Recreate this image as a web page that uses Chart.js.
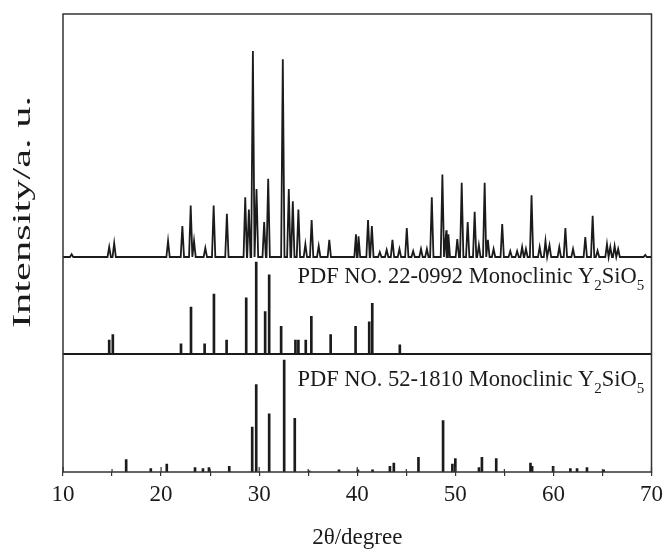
<!DOCTYPE html>
<html>
<head>
<meta charset="utf-8">
<script src="https://cdn.jsdelivr.net/npm/chart.js@4.4.1/dist/chart.umd.min.js"></script>
<style>
  html, body { margin: 0; padding: 0; background: #fff; }
  #wrap { width: 668px; height: 552px; }
</style>
</head>
<body>
<div id="wrap"><canvas id="xrdCanvas" width="668" height="552"></canvas></div>
<script>
// measured pattern: peak positions (2theta) and relative intensities (tallest = 100)
const samplePos = [10.88, 14.71, 15.22, 20.71, 22.17, 23.02, 23.36, 24.51, 25.36, 26.71,
  28.58, 28.95, 29.36, 29.73, 30.51, 30.92, 32.41, 33.02, 33.43, 34.00,
  34.71, 35.35, 36.07, 37.15, 39.87, 40.13, 41.10, 41.49, 42.3, 43.0,
  43.59, 44.3, 45.05, 45.7, 46.5, 47.1, 47.60, 48.68, 49.08, 49.29,
  50.20, 50.65, 51.26, 51.97, 52.4, 52.99, 53.32, 53.9, 54.78, 55.6,
  56.3, 56.81, 57.2, 57.77, 58.6, 59.19, 59.6, 60.6, 61.22, 62.0,
  63.25, 64.0, 64.5, 65.46, 65.8, 66.24, 66.6, 69.36];
const sampleInt = [1.3, 4.9, 6.8, 7.8, 15, 25, 7.8, 4.4, 25, 21,
  29, 23, 100, 33, 17, 38, 96, 33, 27, 23,
  6.3, 18, 5.3, 8.3, 11, 10, 18, 15, 2.4, 3.4,
  8.3, 3.9, 14, 2.9, 3.9, 3.9, 29, 40, 13, 11,
  8.7, 36, 17, 22, 5.8, 36, 8.3, 3.9, 16, 2.9,
  2.9, 4.9, 3.9, 30, 4.9, 7.8, 5.8, 4.9, 14, 3.9,
  9.7, 20, 3, 6.3, 4.9, 5.3, 3.9, 1];

// PDF 22-0992
const pdf1Pos = [14.71, 15.08, 22.03, 23.05, 24.44, 25.39, 26.68, 28.68, 29.70, 30.61,
  31.02, 32.24, 33.70, 34.00, 34.75, 35.32, 37.29, 39.83, 41.22, 41.53, 44.34];
const pdf1Int = [15, 21, 11, 51, 11, 65, 15, 61, 100, 46,
  86, 30, 15, 15, 15, 41, 21, 30, 35, 55, 10];

// PDF 52-1810
const pdf2Pos = [16.44, 18.95, 20.58, 23.46, 24.27, 24.88, 26.95, 29.29, 29.70, 31.02,
  32.55, 33.63, 35.09, 38.14, 40.07, 41.56, 43.33, 43.73, 46.24, 48.75,
  49.70, 50.00, 52.41, 52.71, 54.17, 57.66, 57.83, 59.97, 61.73, 62.41,
  63.42, 65.12];
const pdf2Int = [11, 3, 7, 4, 3, 4, 5, 40, 78, 52,
  100, 48, 1, 2, 2, 2, 5, 8, 13, 46,
  7, 12, 4, 13, 12, 8, 5, 5, 3, 3,
  4, 2];

const xTicks = [10, 20, 30, 40, 50, 60, 70];
const label1 = [['PDF NO. 22-0992 Monoclinic Y', false], ['2', true], ['SiO', false], ['5', true]];
const label2 = [['PDF NO. 52-1810 Monoclinic Y', false], ['2', true], ['SiO', false], ['5', true]];

// stacking of the three panels (y units of the chart)
const TOP_BASE = 215, TOP_SCALE = 2.06;
const MID_BASE = 118, MID_SCALE = 0.92;
const BOT_BASE = 0, BOT_SCALE = 1.12;
const Y_MAX = 458;
const X_MIN = 10, X_MAX = 70;
const HALF = 0.17; // half width of a drawn peak, degrees
const INK = '#1b1b1b';
const SERIF = '"Liberation Serif", "Times New Roman", serif';

function traceFromPeaks(pos, inten) {
  const pts = [{ x: X_MIN, y: TOP_BASE }];
  pos.forEach((p, i) => {
    pts.push({ x: p - HALF, y: TOP_BASE });
    pts.push({ x: p, y: TOP_BASE + inten[i] * TOP_SCALE });
    pts.push({ x: p + HALF, y: TOP_BASE });
  });
  pts.push({ x: X_MAX, y: TOP_BASE });
  return pts.sort((a, b) => a.x - b.x);
}

function sticks(pos, inten, base, scale) {
  return pos.map((p, i) => ({ x: p, y: [base, base + inten[i] * scale] }));
}

function drawFormula(ctx, x, y, parts, size) {
  let cx = x;
  parts.forEach(([txt, sub]) => {
    ctx.font = (sub ? Math.round(size * 0.66) : size) + 'px ' + SERIF;
    ctx.fillText(txt, cx, sub ? y + size * 0.3 : y);
    cx += ctx.measureText(txt).width;
  });
}

const decorPlugin = {
  id: 'decor',
  afterDraw(chart) {
    const { ctx, chartArea: a, scales } = chart;
    ctx.save();
    ctx.strokeStyle = '#333';
    ctx.lineWidth = 1.5;
    ctx.strokeRect(a.left, a.top, a.right - a.left, a.bottom - a.top);

    // inner tick marks on the bottom axis
    ctx.lineWidth = 1.2;
    scales.x.ticks.forEach((t) => {
      const px = scales.x.getPixelForValue(t.value);
      const len = xTicks.includes(t.value) ? 5 : 3;
      ctx.beginPath();
      ctx.moveTo(px, a.bottom);
      ctx.lineTo(px, a.bottom - len);
      ctx.stroke();
    });

    ctx.fillStyle = INK;
    ctx.textBaseline = 'alphabetic';
    ctx.textAlign = 'left';
    const lx = scales.x.getPixelForValue(33.9);
    drawFormula(ctx, lx, scales.y.getPixelForValue(189), label1, 22.5);
    drawFormula(ctx, lx, scales.y.getPixelForValue(86), label2, 22.5);

    // y title, drawn long like the original figure
    ctx.font = '26px ' + SERIF;
    const title = 'Intensity/a. u.';
    const w = ctx.measureText(title).width;
    ctx.translate(23, 212);
    ctx.rotate(-Math.PI / 2);
    ctx.scale(232 / w, 1);
    ctx.textAlign = 'center';
    ctx.textBaseline = 'middle';
    ctx.fillText(title, 0, 0);
    ctx.restore();
  }
};

function xrdChart() {
  const canvas = document.getElementById('xrdCanvas');
  new Chart(canvas, {
    data: {
      datasets: [{
        type: 'line',
        data: traceFromPeaks(samplePos, sampleInt),
        borderColor: INK,
        borderWidth: 1.8,
        pointRadius: 0,
        tension: 0
      }, {
        type: 'line',
        data: [{ x: X_MIN, y: MID_BASE }, { x: X_MAX, y: MID_BASE }],
        borderColor: INK,
        borderWidth: 1.8,
        pointRadius: 0
      }, {
        type: 'bar',
        data: sticks(pdf1Pos, pdf1Int, MID_BASE, MID_SCALE),
        backgroundColor: INK,
        barThickness: 2,
        grouped: false
      }, {
        type: 'bar',
        data: sticks(pdf2Pos, pdf2Int, BOT_BASE, BOT_SCALE),
        backgroundColor: INK,
        barThickness: 2,
        grouped: false
      }]
    },
    options: {
      responsive: false,
      animation: false,
      layout: { padding: { top: 14, right: 15, left: 0, bottom: 0 } },
      plugins: { legend: { display: false }, tooltip: { enabled: false } },
      scales: {
        x: {
          type: 'linear',
          min: X_MIN,
          max: X_MAX,
          offset: false,
          grid: { display: true, offset: false, drawOnChartArea: false, drawTicks: true, tickLength: 4, color: '#333', lineWidth: 1.2 },
          border: { display: false },
          ticks: {
            stepSize: 5,
            autoSkip: false,
            maxRotation: 0,
            color: INK,
            padding: 5,
            font: { family: SERIF, size: 23 },
            callback: (v) => (xTicks.includes(v) ? String(v) : '')
          },
          title: {
            display: true,
            text: '2θ/degree',
            color: INK,
            padding: { top: 2, bottom: 0 },
            font: { family: SERIF, size: 23 }
          },
          afterFit: (s) => { s.height = 80; }
        },
        y: {
          min: 0,
          max: Y_MAX,
          grid: { display: false },
          border: { display: false },
          ticks: { display: false },
          afterFit: (s) => { s.width = 63; }
        }
      }
    },
    plugins: [decorPlugin]
  });
}

document.addEventListener('DOMContentLoaded', () => {
  xrdChart();
});
</script>
</body>
</html>
